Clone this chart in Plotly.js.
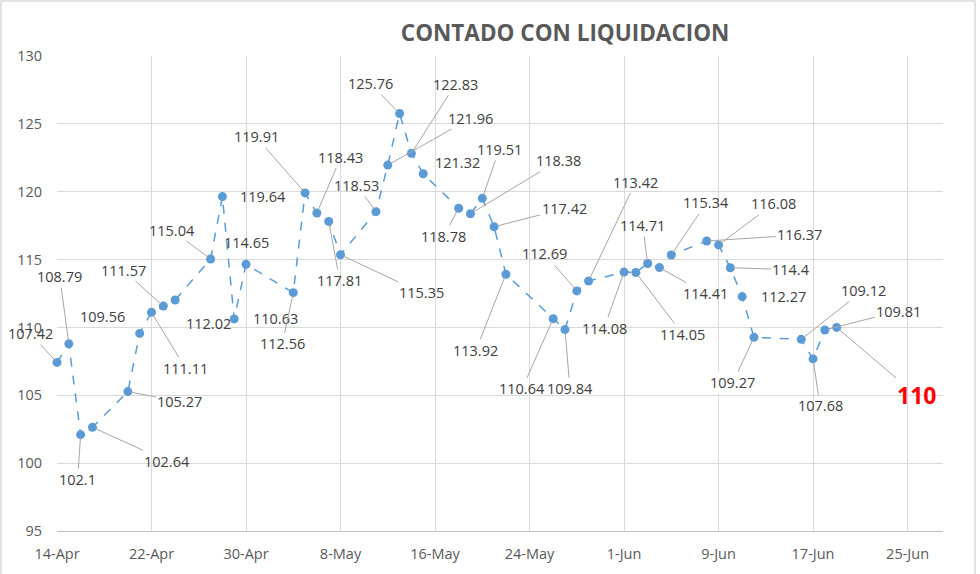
<!DOCTYPE html>
<html>
<head>
<meta charset="utf-8">
<script src="https://cdn.plot.ly/plotly-3.0.1.min.js"></script>
<style>
html,body{margin:0;padding:0;background:#fff;}
#chart{width:980px;height:574px;}
</style>
</head>
<body>
<div id="chart"></div>
<script>
// Data
const dates = [
  "2020-04-14","2020-04-15","2020-04-16","2020-04-17",
  "2020-04-20","2020-04-21","2020-04-22","2020-04-23","2020-04-24",
  "2020-04-27","2020-04-28","2020-04-29","2020-04-30",
  "2020-05-04","2020-05-05","2020-05-06","2020-05-07","2020-05-08",
  "2020-05-11","2020-05-12","2020-05-13","2020-05-14","2020-05-15",
  "2020-05-18","2020-05-19","2020-05-20","2020-05-21","2020-05-22",
  "2020-05-26","2020-05-27","2020-05-28","2020-05-29",
  "2020-06-01","2020-06-02","2020-06-03","2020-06-04","2020-06-05",
  "2020-06-08","2020-06-09","2020-06-10","2020-06-11","2020-06-12",
  "2020-06-16","2020-06-17","2020-06-18","2020-06-19"
];
const values = [
  107.42,108.79,102.1,102.64,
  105.27,109.56,111.11,111.57,112.02,
  115.04,119.64,110.63,114.65,
  112.56,119.91,118.43,117.81,115.35,
  118.53,121.96,125.76,122.83,121.32,
  118.78,118.38,119.51,117.42,113.92,
  110.64,109.84,112.69,113.42,
  114.08,114.05,114.71,114.41,115.34,
  116.37,116.08,114.4,112.27,109.27,
  109.12,107.68,109.81,110
];
const titleText = "CONTADO CON LIQUIDACION";
const yTicks = [95,100,105,110,115,120,125,130];

// label placement (pixel offsets from point to label centre) and whether a leader line is drawn
const labelOffsets = [
  [-27,-29,1],[-9,-67,1],[-3,45,1],[75,34,1],
  [52,10,1],[-37,-17,0],[34,56,1],[-40,-36,1],[33,23,0],
  [-39,-29,1],[41,0,0],[41,0,0],[0,-22,0],
  [-11,51,1],[-49,-56,1],[24,-56,1],[11,59,1],[81,38,1],
  [-19,-26,1],[83,-47,1],[-29,-30,1],[44,-69,1],[34,-11,0],
  [-15,28,1],[88,-53,1],[17,-49,1],[70,-18,1],
  [-30,76,1],
  [-31,70,1],[5,59,1],[-32,-37,1],[47,-99,1],
  [-20,56,1],[47,62,1],[-5,-38,1],[46,26,1],[35,-52,1],
  [93,-6,1],[55,-41,1],[61,2,1],[41,0,0],[-21,45,1],
  [62,-49,1],[7,47,1],[74,-19,1],[80,68,1]
];

const annotations = values.map((v,i)=>{
  const o = labelOffsets[i];
  const last = i === values.length-1;
  const a = {
    x: dates[i], y: v, xref:'x', yref:'y',
    text: last ? '<b>110</b>' : String(v),
    showarrow: true,
    ax: o[0], ay: o[1], axref:'pixel', ayref:'pixel',
    arrowhead: 0, arrowwidth: 1,
    arrowcolor: o[2] ? '#a6a6a6' : 'rgba(0,0,0,0)',
    standoff: 3,
    font: last ? {family:'Open Sans, sans-serif', size:23, color:'#ff0000'}
               : {family:'Open Sans, sans-serif', size:14.5, color:'#404040'}
  };
  if (v === 109.27) a.bgcolor = '#ffffff';
  return a;
});

const trace = {
  x: dates, y: values, type:'scatter', mode:'lines+markers',
  line:{color:'#5b9bd5', width:1.5, dash:'dash'},
  marker:{color:'#5b9bd5', size:9},
  hoverinfo:'x+y', cliponaxis:false
};

const layout = {
  width:980, height:574,
  margin:{l:57, r:37, t:56, b:43},
  paper_bgcolor:'#ffffff', plot_bgcolor:'#ffffff',
  showlegend:false,
  title:{text:'<b>'+titleText+'</b>', x:562/980, xref:'paper', xanchor:'center',
         y:1-33/574, yref:'container', yanchor:'middle',
         font:{family:'Open Sans, sans-serif', size:22.5, color:'#595959'}},
  xaxis:{type:'date', range:['2020-04-14','2020-06-28'],
         tick0:'2020-04-14', dtick:8*86400000, tickformat:'%-d-%b',
         showgrid:true, gridcolor:'#d9d9d9', gridwidth:1,
         showline:true, linecolor:'#bfbfbf', linewidth:1,
         zeroline:false, ticks:'', ticklabelstandoff:10,
         tickfont:{family:'Open Sans, sans-serif', size:14.5, color:'#595959'}},
  yaxis:{range:[95,130], tickvals:yTicks, showgrid:true, gridcolor:'#d9d9d9', gridwidth:1,
         showline:false, zeroline:false, ticks:'', ticklabelstandoff:14,
         tickfont:{family:'Open Sans, sans-serif', size:14.5, color:'#595959'}},
  annotations: annotations,
  shapes:[{type:'rect', xref:'paper', yref:'paper',
           x0:(1-57)/886, x1:(975-57)/886, y0:-0.3, y1:(531-1)/475,
           line:{color:'#d9d9d9', width:1.5}, layer:'below'}]
};

Plotly.newPlot('chart',[trace],layout,{displayModeBar:false, staticPlot:true});
</script>
</body>
</html>
